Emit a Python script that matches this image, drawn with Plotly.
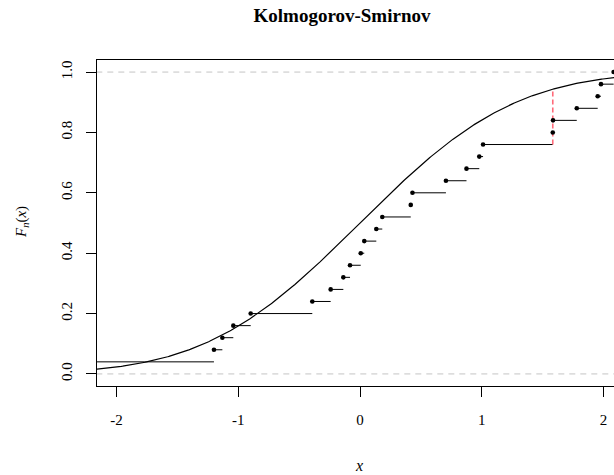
import math
import plotly.graph_objects as go

# ---- data ----
title_text = "Kolmogorov-Smirnov"
sample_x = [-2.30, -1.200, -1.131, -1.041, -0.898, -0.392, -0.241, -0.137,
            -0.082, 0.006, 0.035, 0.134, 0.183, 0.417, 0.431, 0.706,
            0.875, 0.980, 1.011, 1.584, 1.586, 1.781, 1.953, 1.980, 2.084]
x_tick_vals = [-2, -1, 0, 1, 2]
x_tick_text = ["-2", "-1", "0", "1", "2"]
y_tick_vals = [0.0, 0.2, 0.4, 0.6, 0.8, 1.0]
y_tick_text = ["0.0", "0.2", "0.4", "0.6", "0.8", "1.0"]
x_range = [-2.161, 2.087]
y_range = [-0.04, 1.04]

FONT = "Liberation Serif"


def phi(v):
    return 0.5 * (1.0 + math.erf(v / math.sqrt(2.0)))


n = len(sample_x)
xs = sorted(sample_x)
fn = [(i + 1) / n for i in range(n)]

# step segments
seg_x, seg_y = [], []
left_far = x_range[0] - 1.0
right_far = x_range[1] + 1.0
seg_x += [left_far, xs[0], None]
seg_y += [0.0, 0.0, None]
for i in range(n):
    x_end = xs[i + 1] if i + 1 < n else right_far
    seg_x += [xs[i], x_end, None]
    seg_y += [fn[i], fn[i], None]

# theoretical normal CDF curve
m = 400
curve_x = [x_range[0] - 0.05 + (x_range[1] - x_range[0] + 0.1) * k / m for k in range(m + 1)]
curve_y = [phi(v) for v in curve_x]

# KS statistic location
best = (-1, None, None, None)
for i in range(n):
    p = phi(xs[i])
    lo = fn[i - 1] if i > 0 else 0.0
    for fv in (lo, fn[i]):
        d = abs(p - fv)
        if d > best[0]:
            best = (d, xs[i], fv, p)
_, ks_x, ks_f, ks_p = best

fig = go.Figure()

# reference dashed lines at 0 and 1
for yv in (0.0, 1.0):
    fig.add_trace(go.Scatter(x=[left_far, right_far], y=[yv, yv], mode="lines",
                             line=dict(color="#C4C4C4", width=1, dash="6px,5px"),
                             hoverinfo="skip", showlegend=False))

fig.add_trace(go.Scatter(x=curve_x, y=curve_y, mode="lines",
                         line=dict(color="black", width=1.2),
                         hoverinfo="skip", showlegend=False))

fig.add_trace(go.Scatter(x=seg_x, y=seg_y, mode="lines",
                         line=dict(color="black", width=1),
                         hoverinfo="skip", showlegend=False))

fig.add_trace(go.Scatter(x=[ks_x, ks_x], y=[ks_f, ks_p], mode="lines",
                         line=dict(color="#FF6B7A", width=1.6, dash="5px,3px"),
                         hoverinfo="skip", showlegend=False))

fig.add_trace(go.Scatter(x=xs, y=fn, mode="markers",
                         marker=dict(color="black", size=4.6),
                         hoverinfo="skip", showlegend=False, cliponaxis=True))

fig.update_layout(
    width=614, height=475,
    margin=dict(l=97, r=0, t=60, b=89),
    paper_bgcolor="white", plot_bgcolor="white",
    font=dict(family=FONT, color="black", size=14),
    title=dict(text="<b>" + title_text + "</b>", xref="container", yref="container",
               x=342 / 614, xanchor="center", y=1 - 15 / 475, yanchor="middle",
               font=dict(family=FONT, size=19, color="black")),
    xaxis=dict(range=x_range, showgrid=False, zeroline=False,
               showline=True, mirror=True, linecolor="black", linewidth=1,
               ticks="outside", ticklen=10, tickwidth=1, tickcolor="black",
               tickvals=x_tick_vals, ticktext=x_tick_text,
               tickfont=dict(family=FONT, size=15), ticklabelstandoff=10),
    yaxis=dict(range=y_range, showgrid=False, zeroline=False,
               showline=True, mirror=False, linecolor="black", linewidth=1,
               ticks="outside", ticklen=10, tickwidth=1, tickcolor="black",
               tickvals=y_tick_vals, ticktext=y_tick_text, tickangle=-90,
               tickfont=dict(family=FONT, size=15), ticklabelstandoff=8),
    annotations=[
        dict(text="<i>x</i>", xref="paper", yref="paper", x=(359 - 97) / 517, y=0,
             yshift=-79, showarrow=False, xanchor="center", yanchor="middle",
             font=dict(family=FONT, size=16)),
        dict(text="<i>F<sub>n</sub></i>(<i>x</i>)", xref="paper", yref="paper",
             x=0, xshift=-75, y=(386 - 222) / 326, showarrow=False, textangle=-90,
             xanchor="center", yanchor="middle", font=dict(family=FONT, size=15)),
    ],
)

fig.write_html("out.html")
